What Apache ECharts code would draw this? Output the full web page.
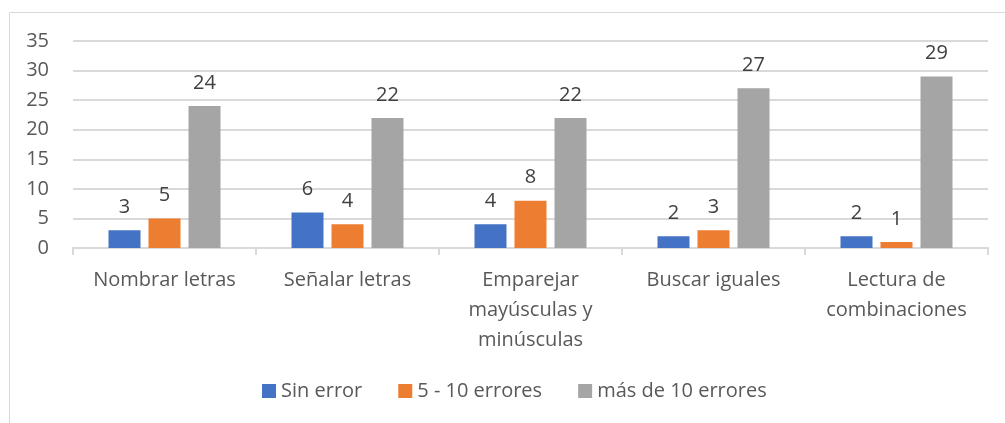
<!DOCTYPE html>
<html lang="es">
<head>
<meta charset="UTF-8">
<title>Errores por tarea</title>
<script src="https://cdn.jsdelivr.net/npm/echarts@6/dist/echarts.min.js"></script>
<style>
    * { padding: 0; margin: 0; }
    html, body { width: 1005px; height: 423px; background: #fff; overflow: hidden; }
    #chart { width: 1005px; height: 423px; }
</style>
</head>
<body>
<div id="chart"></div>
<script>
    // datos
    var categorias = ['Nombrar letras', 'Señalar letras', 'Emparejar\nmayúsculas y\nminúsculas', 'Buscar iguales', 'Lectura de\ncombinaciones'];
    var sinError = [3, 6, 4, 2, 2];
    var cincoDiez = [5, 4, 8, 3, 1];
    var masDeDiez = [24, 22, 22, 27, 29];
    var nombres = ['Sin error', '5 - 10 errores', 'más de 10 errores'];
    var colores = ['#4472C4', '#ED7D31', '#A5A5A5'];

    var fuente = '"Open Sans", "Liberation Sans", sans-serif';
    var chart = echarts.init(document.getElementById('chart'));

    function serie(nombre, datos, color) {
        return {
            name: nombre,
            type: 'bar',
            data: datos,
            barWidth: 32,
            barGap: '25%',
            itemStyle: { color: color },
            label: {
                show: true,
                position: 'top',
                distance: 13,
                color: '#404040',
                fontSize: 20,
                fontFamily: fuente
            }
        };
    }

    var option = {
        animation: false,
        color: colores,
        graphic: [{
            type: 'rect',
            shape: { x: 9.5, y: 12.5, width: 1000, height: 420 },
            style: { fill: 'none', stroke: '#d9d9d9', lineWidth: 1 },
            silent: true
        }],
        grid: { left: 73, right: 17, top: 41, bottom: 175 },
        legend: {
            data: nombres,
            left: 262,
            top: 381,
            padding: 0,
            itemWidth: 14,
            itemHeight: 14,
            itemGap: 36,
            icon: 'rect',
            textStyle: { color: '#595959', fontSize: 20, fontFamily: fuente }
        },
        xAxis: {
            type: 'category',
            data: categorias,
            axisLine: { lineStyle: { color: '#d9d9d9', width: 2 } },
            axisTick: { show: true, length: 7, lineStyle: { color: '#d9d9d9', width: 2 } },
            axisLabel: {
                color: '#595959',
                fontSize: 20,
                fontFamily: fuente,
                lineHeight: 30,
                margin: 17,
                interval: 0
            }
        },
        yAxis: {
            type: 'value',
            min: 0,
            max: 35,
            interval: 5,
            axisLine: { show: false },
            axisTick: { show: false },
            splitLine: { lineStyle: { color: '#d9d9d9', width: 2 } },
            axisLabel: { color: '#595959', fontSize: 20, fontFamily: fuente, margin: 24 }
        },
        series: [
            serie(nombres[0], sinError, colores[0]),
            serie(nombres[1], cincoDiez, colores[1]),
            serie(nombres[2], masDeDiez, colores[2])
        ]
    };
    chart.setOption(option);
</script>
</body>
</html>
